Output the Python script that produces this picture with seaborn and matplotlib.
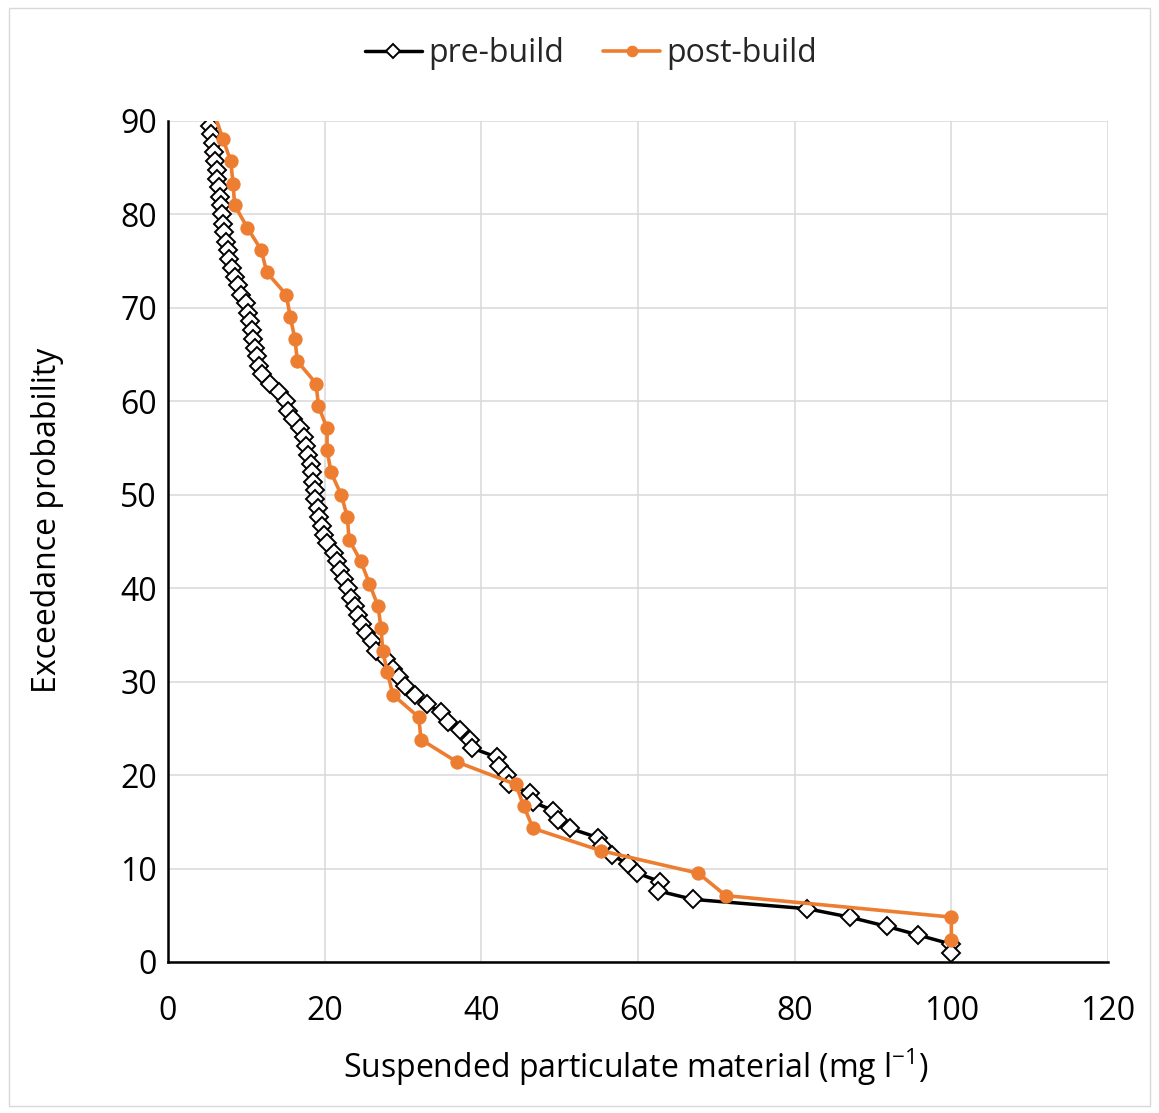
import numpy as np
import pandas as pd
import matplotlib
matplotlib.use('Agg')
import matplotlib.pyplot as plt
from matplotlib.patches import Rectangle
import seaborn as sns

# Exceedance curves
# pre-build: suspended particulate material (mg/l) and exceedance probability
pre_spm = [5.3, 5.5, 5.7, 5.9, 6.0, 6.2, 6.3, 6.5, 6.6, 6.7,
           6.9, 7.0, 7.2, 7.4, 7.6, 7.8, 8.1, 8.5, 8.9, 9.3,
           9.9, 10.2, 10.5, 10.7, 10.9, 11.1, 11.3, 11.6, 12.0, 13.0,
           14.2, 15.0, 15.3, 16.0, 16.9, 17.3, 17.6, 17.9, 18.2, 18.4,
           18.5, 18.7, 18.8, 19.1, 19.3, 19.6, 19.9, 20.3, 21.2, 21.6,
           22.0, 22.5, 23.0, 23.4, 23.9, 24.3, 24.8, 25.3, 26.0, 26.6,
           27.8, 28.7, 29.5, 30.3, 31.5, 33.0, 34.8, 35.8, 37.3, 38.6,
           38.8, 42.0, 42.2, 43.3, 43.5, 46.2, 46.6, 49.2, 49.8, 51.3,
           54.9, 55.4, 56.7, 58.7, 59.9, 62.8, 62.6, 67.0, 81.6, 87.0,
           91.8, 95.7, 100.0, 100.0]
pre_prob = [89.5, 88.6, 87.6, 86.7, 85.7, 84.8, 83.8, 82.9, 81.9, 81.0,
            80.0, 79.0, 78.1, 77.1, 76.2, 75.2, 74.3, 73.3, 72.4, 71.4,
            70.5, 69.5, 68.6, 67.6, 66.7, 65.7, 64.8, 63.8, 62.9, 61.9,
            61.0, 60.0, 59.0, 58.1, 57.1, 56.2, 55.2, 54.3, 53.3, 52.4,
            51.4, 50.5, 49.5, 48.6, 47.6, 46.7, 45.7, 44.8, 43.8, 42.9,
            41.9, 41.0, 40.0, 39.0, 38.1, 37.1, 36.2, 35.2, 34.3, 33.3,
            32.4, 31.4, 30.5, 29.5, 28.6, 27.6, 26.7, 25.7, 24.8, 23.8,
            22.9, 21.9, 21.0, 20.0, 19.0, 18.1, 17.1, 16.2, 15.2, 14.3,
            13.3, 12.4, 11.4, 10.5, 9.5, 8.6, 7.6, 6.7, 5.7, 4.8,
            3.8, 2.9, 1.9, 1.0]

# post-build
post_spm = [5.0, 7.0, 8.0, 8.3, 8.5, 10.1, 11.9, 12.6, 15.1, 15.6,
            16.2, 16.5, 18.9, 19.2, 20.3, 20.3, 20.8, 22.1, 22.9, 23.1,
            24.6, 25.7, 26.8, 27.2, 27.4, 28.0, 28.7, 32.0, 32.3, 36.9,
            44.4, 45.4, 46.6, 55.3, 67.7, 71.2, 100.0, 100.0]
post_prob = [92.9, 88.1, 85.7, 83.3, 81.0, 78.6, 76.2, 73.8, 71.4, 69.0,
             66.7, 64.3, 61.9, 59.5, 57.1, 54.8, 52.4, 50.0, 47.6, 45.2,
             42.9, 40.5, 38.1, 35.7, 33.3, 31.0, 28.6, 26.2, 23.8, 21.4,
             19.0, 16.7, 14.3, 11.9, 9.5, 7.1, 4.8, 2.4]

x_ticks = [0, 20, 40, 60, 80, 100, 120]
y_ticks = [0, 10, 20, 30, 40, 50, 60, 70, 80, 90]

sns.set_style("white")
plt.rcParams['font.family'] = ['Open Sans', 'DejaVu Sans']

fig = plt.figure(figsize=(11.59, 11.13), dpi=100)
ax = fig.add_axes([0.145, 0.1357, 0.811, 0.7556])

sns.lineplot(x=pre_spm, y=pre_prob, sort=False, estimator=None, ax=ax,
             color='black', linewidth=2.5, marker='D', markersize=9,
             markerfacecolor='white', markeredgecolor='black',
             markeredgewidth=1.4, label='pre-build')
sns.lineplot(x=post_spm, y=post_prob, sort=False, estimator=None, ax=ax,
             color='#ED7D31', linewidth=2.6, marker='o', markersize=9.5,
             markerfacecolor='#ED7D31', markeredgecolor='#ED7D31',
             label='post-build')

ax.set_xlim(0, 120)
ax.set_ylim(0, 90)
ax.set_xticks(x_ticks)
ax.set_yticks(y_ticks)
ax.grid(True, color='#d9d9d9', linewidth=1.1)
ax.set_axisbelow(True)

for side in ['top', 'right']:
    ax.spines[side].set_visible(False)
for side in ['left', 'bottom']:
    ax.spines[side].set_color('black')
    ax.spines[side].set_linewidth(1.8)

ax.tick_params(axis='both', direction='in', length=8.5, width=1.8,
               colors='black', labelsize=23)
ax.tick_params(axis='x', pad=24)
ax.tick_params(axis='y', pad=8)

ax.set_xlabel(r'Suspended particulate material (mg l$^{\mathregular{-1}}$)',
              fontsize=23, color='black')
ax.set_ylabel('Exceedance probability', fontsize=23, color='black')
ax.xaxis.label.set_va('center')
ax.yaxis.label.set_va('center')
ax.xaxis.set_label_coords(0.498, -0.125)
ax.yaxis.set_label_coords(-0.128, 0.525)

ax.get_legend().remove()
handles, labels = ax.get_legend_handles_labels()
fig.legend(handles, labels, loc='center', bbox_to_anchor=(0.51, 0.952),
           ncol=2, frameon=False, fontsize=23, handlelength=1.8,
           handletextpad=0.2, columnspacing=1.2, markerscale=0.8)

# light chart-area border like the original
fig.patches.append(Rectangle((0.008, 0.006), 0.984, 0.987,
                             transform=fig.transFigure, fill=False,
                             edgecolor='#d9d9d9', linewidth=1))

fig.savefig('out.png', dpi=100)
